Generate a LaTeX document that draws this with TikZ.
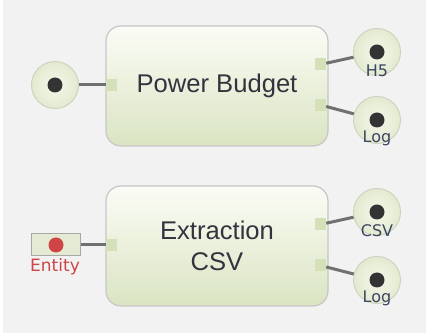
\documentclass[tikz,border=0pt]{standalone}
\usepackage{fontspec}
\setmainfont{Liberation Sans}
\newfontfamily\tagfont{DejaVu Sans}
\definecolor{bgcol}{HTML}{F2F2F2}
\definecolor{boxline}{HTML}{C6C6C6}
\definecolor{boxtop}{HTML}{FBFCF6}
\definecolor{boxbot}{HTML}{DAE4C2}
\definecolor{portfill}{HTML}{D3E0B8}
\definecolor{ringline}{HTML}{CDD4BE}
\definecolor{ringin}{HTML}{F5F8EA}
\definecolor{ringout}{HTML}{E3EAD0}
\definecolor{dotcol}{HTML}{333333}
\definecolor{wirecol}{HTML}{707070}
\definecolor{labeltxt}{HTML}{33333F}
\definecolor{tagtxt}{HTML}{3B4560}
\definecolor{entfill}{HTML}{E4EAD4}
\definecolor{entline}{HTML}{A8A8A8}
\definecolor{entred}{HTML}{CF4444}
\begin{document}
\begin{tikzpicture}[x=1pt,y=-1pt,
  block/.style={draw=boxline, line width=1.2pt, rounded corners=15pt,
    top color=boxtop, bottom color=boxbot, minimum width=222pt,
    minimum height=120pt, align=center, text=labeltxt,
    font=\fontsize{25.6}{31.4}\selectfont},
  port/.style={fill=portfill, minimum width=11pt, minimum height=12pt, inner sep=0pt},
  ring/.style={circle, draw=ringline, line width=1pt, inner color=ringin,
    outer color=ringout, minimum size=47pt, inner sep=0pt,
    path picture={\fill[dotcol] (path picture bounding box.center) circle (7.5pt);}},
  entity/.style={draw=entline, line width=1pt, fill=entfill, minimum width=49pt,
    minimum height=22pt, inner sep=0pt,
    path picture={\fill[entred] (path picture bounding box.center) circle (7.5pt);}},
  tag/.style={text=tagtxt, font=\tagfont\fontsize{16}{16}\selectfont, inner sep=0pt, anchor=base},
  wire/.style={draw=wirecol, line width=3pt}]
  % background
  \useasboundingbox (0,0) rectangle (426,336);
  \fill[white] (0,0) rectangle (426,336);
  \fill[bgcol] (3,0) rectangle (426,333);
  % blocks
  \node[block] (power) at (217,86) {Power Budget};
  \node[block] (extract) at (217,246) {Extraction\\CSV};
  % ports
  \node[port] (powerin) at (111.5,85) {};
  \node[port] (powerh5) at (320.5,64.5) {};
  \node[port] (powerlog) at (320.5,105) {};
  \node[port] (extractin) at (111.5,245) {};
  \node[port] (extractcsv) at (320.5,224.5) {};
  \node[port] (extractlog) at (320.5,265.5) {};
  % inputs
  \node[ring] (src) at (55,85) {};
  \node[entity] (ent) at (56,245) {};
  \node[tag, text=entred, font=\tagfont\fontsize{17}{17}\selectfont] (enttxt) at (55,271.5) {Entity};
  % outputs
  \node[ring] (h5) at (377,52) {};
  \node[ring] (log1) at (377,120) {};
  \node[ring] (csv) at (377,212) {};
  \node[ring] (log2) at (377,280) {};
  \node[tag] (h5txt) at (377,76.5) {H5};
  \node[tag] (log1txt) at (377,143) {Log};
  \node[tag] (csvtxt) at (377,236.5) {CSV};
  \node[tag] (log2txt) at (377,303) {Log};
  % wires
  \draw[wire] (src) -- (powerin);
  \draw[wire] (ent) -- (extractin);
  \draw[wire] (powerh5) -- (h5);
  \draw[wire] (powerlog) -- (log1);
  \draw[wire] (extractcsv) -- (csv);
  \draw[wire] (extractlog) -- (log2);
\end{tikzpicture}
\end{document}
